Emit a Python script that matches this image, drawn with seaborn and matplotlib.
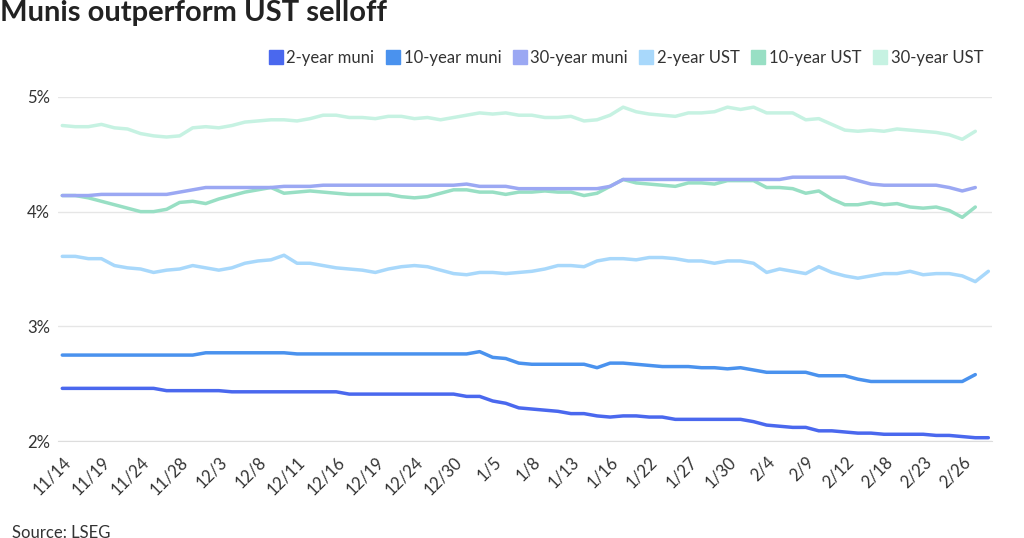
import numpy as np
import pandas as pd
import seaborn as sns
import matplotlib.pyplot as plt
from matplotlib.lines import Line2D

tick_labels = ['11/14', '11/19', '11/24', '11/28', '12/3', '12/8', '12/11', '12/16', '12/19', '12/24',
               '12/30', '1/5', '1/8', '1/13', '1/16', '1/22', '1/27', '1/30', '2/4', '2/9', '2/12',
               '2/18', '2/23', '2/26']

muni_2y = [2.46]*8 + [2.44]*5 + [2.43]*9 + [2.41]*9 + [2.39, 2.39, 2.35, 2.33, 2.29, 2.28, 2.27, 2.26,
           2.24, 2.24, 2.22, 2.21, 2.22, 2.22, 2.21, 2.21, 2.19, 2.19, 2.19, 2.19, 2.19, 2.19, 2.17,
           2.14, 2.13, 2.12, 2.12, 2.09, 2.09, 2.08, 2.07, 2.07, 2.06, 2.06, 2.06, 2.06, 2.05, 2.05,
           2.04, 2.03, 2.03]
muni_10y = [2.75]*11 + [2.77]*7 + [2.76]*14 + [2.78, 2.73, 2.72, 2.68, 2.67, 2.67, 2.67, 2.67, 2.67,
            2.64, 2.68, 2.68, 2.67, 2.66, 2.65, 2.65, 2.65, 2.64, 2.64, 2.63, 2.64, 2.62, 2.60, 2.60,
            2.60, 2.60, 2.57, 2.57, 2.57, 2.54, 2.52, 2.52, 2.52, 2.52, 2.52, 2.52, 2.52, 2.52, 2.58]
muni_30y = [4.14, 4.14, 4.14] + [4.15]*6 + [4.17, 4.19] + [4.21]*6 + [4.22]*3 + [4.23]*11 + \
           [4.24, 4.22, 4.22, 4.22] + [4.20]*7 + [4.22] + [4.28]*13 + [4.30]*5 + \
           [4.27, 4.24, 4.23, 4.23, 4.23, 4.23, 4.23, 4.21, 4.18, 4.21]
ust_2y = [3.61, 3.61, 3.59, 3.59, 3.53, 3.51, 3.50, 3.47, 3.49, 3.50, 3.53, 3.51, 3.49, 3.51, 3.55,
          3.57, 3.58, 3.62, 3.55, 3.55, 3.53, 3.51, 3.50, 3.49, 3.47, 3.50, 3.52, 3.53, 3.52, 3.49,
          3.46, 3.45, 3.47, 3.47, 3.46, 3.47, 3.48, 3.50, 3.53, 3.53, 3.52, 3.57, 3.59, 3.59, 3.58,
          3.60, 3.60, 3.59, 3.57, 3.57, 3.55, 3.57, 3.57, 3.55, 3.47, 3.50, 3.48, 3.46, 3.52, 3.47,
          3.44, 3.42, 3.44, 3.46, 3.46, 3.48, 3.45, 3.46, 3.46, 3.44, 3.39, 3.48]
ust_10y = [4.14, 4.14, 4.12, 4.09, 4.06, 4.03, 4.00, 4.00, 4.02, 4.08, 4.09, 4.07, 4.11, 4.14, 4.17,
           4.19, 4.21, 4.16, 4.17, 4.18, 4.17, 4.16, 4.15, 4.15, 4.15, 4.15, 4.13, 4.12, 4.13, 4.16,
           4.19, 4.19, 4.17, 4.17, 4.15, 4.17, 4.17, 4.18, 4.17, 4.17, 4.14, 4.16, 4.22, 4.28, 4.25,
           4.24, 4.23, 4.22, 4.25, 4.25, 4.24, 4.27, 4.27, 4.27, 4.21, 4.21, 4.20, 4.16, 4.18, 4.11,
           4.06, 4.06, 4.08, 4.06, 4.07, 4.04, 4.03, 4.04, 4.01, 3.95, 4.04]
ust_30y = [4.75, 4.74, 4.74, 4.76, 4.73, 4.72, 4.68, 4.66, 4.65, 4.66, 4.73, 4.74, 4.73, 4.75, 4.78,
           4.79, 4.80, 4.80, 4.79, 4.81, 4.84, 4.84, 4.82, 4.82, 4.81, 4.83, 4.83, 4.81, 4.82, 4.80,
           4.82, 4.84, 4.86, 4.85, 4.86, 4.84, 4.84, 4.82, 4.82, 4.83, 4.79, 4.80, 4.84, 4.91, 4.87,
           4.85, 4.84, 4.83, 4.86, 4.86, 4.87, 4.91, 4.89, 4.91, 4.86, 4.86, 4.86, 4.80, 4.81, 4.76,
           4.71, 4.70, 4.71, 4.70, 4.72, 4.71, 4.70, 4.69, 4.67, 4.63, 4.70]

series = {'2-year muni': muni_2y, '10-year muni': muni_10y, '30-year muni': muni_30y,
          '2-year UST': ust_2y, '10-year UST': ust_10y, '30-year UST': ust_30y}
colors = ['#4a68ee', '#4a92ee', '#9ba8f3', '#a8d8fb', '#98dfc4', '#c6f2e2']

frames = [pd.DataFrame({'x': np.arange(len(v)), 'y': v, 'name': k}) for k, v in series.items()]
df = pd.concat(frames)

sns.set_style('white')
plt.rcParams['font.family'] = ['Lato', 'DejaVu Sans']
fig = plt.figure(figsize=(10.24, 5.38), dpi=100)
ax = fig.add_axes([0.057, 0.18, 0.912, 0.64])

# draw back to front so muni lines sit on top
for name, c in list(zip(series.keys(), colors))[::-1]:
    sns.lineplot(data=df[df.name == name], x='x', y='y', color=c, lw=2.5, ax=ax)

n = max(len(v) for v in series.values())
ax.set_xlim(-0.3, n - 0.7)
ax.set_ylim(2, 5)
ax.set_yticks([2, 3, 4, 5])
ax.set_yticklabels(['2%', '3%', '4%', '5%'], fontsize=12, color='#333333')
ax.set_xticks(np.arange(0, n, 3))
ax.set_xticklabels(tick_labels, rotation=45, ha='right', rotation_mode='anchor', fontsize=12, color='#333333')
ax.set_xticks(np.arange(n), minor=True)
ax.tick_params(axis='x', which='both', length=5, color='#dddddd', pad=4)
ax.tick_params(axis='y', length=0, pad=6)
ax.grid(axis='y', color='#e6e6e6', lw=1)
for s in ['top', 'right', 'left']:
    ax.spines[s].set_visible(False)
ax.spines['bottom'].set_color('#dddddd')
ax.set_xlabel('')
ax.set_ylabel('')

handles = [Line2D([], [], marker='s', ls='', markersize=10, color=c) for c in colors]
fig.legend(handles, list(series.keys()), loc='upper right', bbox_to_anchor=(0.975, 0.935), ncol=6,
           frameon=False, fontsize=12, handletextpad=0.05, columnspacing=0.5, handlelength=1.2,
           labelcolor='#333333')

fig.text(0.0, 0.975, 'Munis outperform UST selloff', fontsize=21, fontweight='bold', color='#222222', va='center')
fig.text(0.012, 0.0, 'Source: LSEG', fontsize=12, color='#333333')

fig.savefig('out.png', dpi=100)
